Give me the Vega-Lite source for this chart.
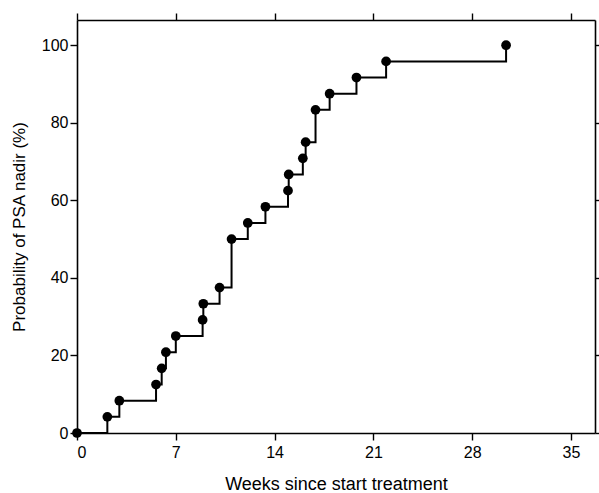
{
  "$schema": "https://vega.github.io/schema/vega-lite/v6.json",
  "autosize": "none",
  "width": 518,
  "height": 413,
  "padding": {"left": 77, "top": 20, "right": 4, "bottom": 60},
  "background": "white",
  "config": {
    "view": {"stroke": null},
    "font": "Liberation Sans",
    "axis": {
      "domainColor": "black", "domainWidth": 1.6, "tickColor": "black", "tickWidth": 1.4, "tickSize": 7,
      "grid": false, "labelColor": "black", "labelFontSize": 16, "labelFont": "Liberation Sans",
      "titleColor": "black", "titleFont": "Liberation Sans", "titleFontWeight": "normal"
    }
  },
  "data": {"values": [
    {"week": 0, "prob": 0},
    {"week": 2.15, "prob": 4.17},
    {"week": 3.0, "prob": 8.33},
    {"week": 5.6, "prob": 12.5},
    {"week": 6.0, "prob": 16.67},
    {"week": 6.3, "prob": 20.83},
    {"week": 7.0, "prob": 25.0},
    {"week": 8.9, "prob": 29.17},
    {"week": 8.95, "prob": 33.33},
    {"week": 10.1, "prob": 37.5},
    {"week": 10.95, "prob": 50.0},
    {"week": 12.1, "prob": 54.17},
    {"week": 13.35, "prob": 58.33},
    {"week": 14.95, "prob": 62.5},
    {"week": 15.0, "prob": 66.67},
    {"week": 16.0, "prob": 70.83},
    {"week": 16.2, "prob": 75.0},
    {"week": 16.9, "prob": 83.33},
    {"week": 17.9, "prob": 87.5},
    {"week": 19.8, "prob": 91.67},
    {"week": 21.9, "prob": 95.83},
    {"week": 30.4, "prob": 100.0}
  ]},
  "layer": [
    {
      "mark": {"type": "line", "interpolate": "step-after", "color": "black", "strokeWidth": 2},
      "encoding": {
        "x": {"field": "week", "type": "quantitative", "scale": {"domain": [0, 36.7], "nice": false, "zero": false},
              "axis": {"orient": "bottom", "values": [0, 7, 14, 21, 28, 35], "title": "Weeks since start treatment", "titleFontSize": 18, "titlePadding": 15, "labelPadding": 4}},
        "y": {"field": "prob", "type": "quantitative", "scale": {"domain": [0, 106.5], "nice": false},
              "axis": {"orient": "left", "values": [0, 20, 40, 60, 80, 100], "title": "Probability of PSA nadir (%)", "titleFontSize": 17, "titlePadding": 13, "labelPadding": 2}}
      }
    },
    {
      "mark": {"type": "point", "filled": true, "color": "black", "size": 95, "opacity": 1, "clip": false},
      "encoding": {
        "x": {"field": "week", "type": "quantitative",
              "axis": {"orient": "top", "values": [0, 7, 14, 21, 28, 35], "labels": false, "title": null}},
        "y": {"field": "prob", "type": "quantitative",
              "axis": {"orient": "right", "values": [0, 20, 40, 60, 80, 100], "labels": false, "title": null}}
      }
    }
  ],
  "resolve": {"axis": {"x": "independent", "y": "independent"}}
}
